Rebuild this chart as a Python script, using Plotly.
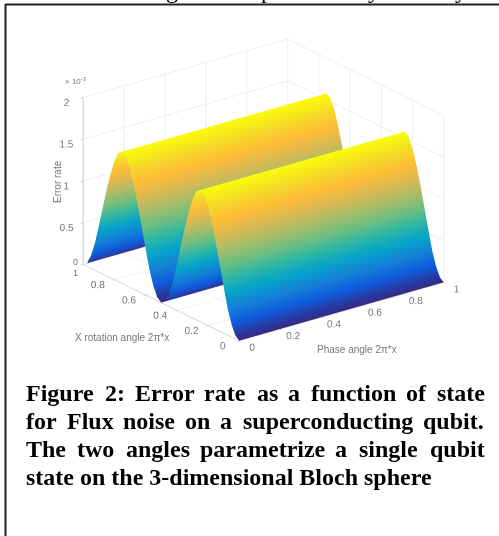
import plotly.graph_objects as go

phase_x = [0, 0.25, 0.5, 0.75, 1]
rotation_y = [0, .025, .05, .075, .1, .125, .15, .175, .2, .225, .25, .275, .3, .325, .35, .375, .4, .425, .45, .475,
              .5, .525, .55, .575, .6, .625, .65, .675, .7, .725, .75, .775, .8, .825, .85, .875, .9, .925, .95, .975, 1]
profile = [0, .04, .15, .32, .55, .79, 1.03, 1.24, 1.42, 1.54, 1.58, 1.54, 1.42, 1.24, 1.03, .79, .55, .32, .15, .04,
           0, .04, .15, .32, .55, .79, 1.03, 1.24, 1.42, 1.54, 1.58, 1.54, 1.42, 1.24, 1.03, .79, .55, .32, .15, .04, 0]
z_rows = [[v] * len(phase_x) for v in profile]
parula = [[0, "#352a87"], [.1, "#0f5cdd"], [.2, "#1481d6"], [.3, "#06a4ca"], [.4, "#2eb7a4"], [.5, "#70be80"],
          [.6, "#a9bd69"], [.7, "#dcb952"], [.8, "#febd37"], [.9, "#f5d928"], [1, "#f9fb0e"]]

ticks = [0, .2, .4, .6, .8, 1]
xlabels = ["0", "0.2", "0.4", "0.6", "0.8", "1"]
ylabels = ["0", "0.2", "0.4", "0.6", "0.8", ""]
zticks = [0, .5, 1, 1.5, 2]
zlabels = ["", "0.5", "1", "1.5", "2"]
caption_words = [
    (393, [("Figure", 24), ("2:", 103), ("Error", 133), ("rate", 202), ("as", 255), ("a", 286), ("function", 309), ("of", 404), ("state", 435)]),
    (421, [("for", 24), ("Flux", 65), ("noise", 121), ("on", 183), ("a", 218), ("superconducting", 241), ("qubit.", 421)]),
    (449, [("The", 24), ("two", 75), ("angles", 124), ("parametrize", 198), ("a", 333), ("single", 357), ("qubit", 428)]),
    (477, [("state on the 3-dimensional Bloch sphere", 24)]),
]
clipped_top = [("g", 172), ("p", 267), ("y", 374), ("y", 461)]

fig = go.Figure(go.Surface(x=phase_x, y=rotation_y, z=z_rows, colorscale=parula, showscale=False, cmin=0, cmax=1.58,
                           lighting=dict(ambient=1, diffuse=0, specular=0, roughness=1, fresnel=0),
                           hoverinfo="skip"))
axis = dict(showbackground=False, showspikes=False, gridcolor="#eeeeee", linecolor="#aaaaaa", showline=True,
            zeroline=False, ticks="outside", tickcolor="#aaaaaa", ticklen=3, tickangle=0,
            tickfont=dict(size=11, color="#777777", family="Liberation Sans"),
            title=dict(text=""), autorange=False)
fig.update_layout(
    width=499, height=536, margin=dict(l=0, r=0, t=0, b=0), paper_bgcolor="white", showlegend=False,
    scene=dict(
        domain=dict(x=[30/499, 497/499], y=[1-370/536, 1-10/536]),
        xaxis=dict(axis, tickvals=ticks, ticktext=xlabels, range=[0, 1]),
        yaxis=dict(axis, tickvals=ticks, ticktext=ylabels, range=[0, 1]),
        zaxis=dict(axis, tickvals=zticks, ticktext=zlabels, range=[0, 2]),
        aspectmode="manual", aspectratio=dict(x=1.43, y=1.43, z=1.0),
        camera=dict(projection=dict(type="orthographic"), up=dict(x=0, y=0, z=1), center=dict(x=0, y=0, z=0),
                    eye=dict(x=-0.607*0.927*2, y=-0.795*0.927*2, z=0.374*2)),
    ),
    shapes=[
        dict(type="line", xref="paper", yref="paper", x0=5.5/499, x1=1, y0=1-4.5/536, y1=1-4.5/536, line=dict(color="#222222", width=2)),
        dict(type="line", xref="paper", yref="paper", x0=5.5/499, x1=5.5/499, y0=0, y1=1-4/536, line=dict(color="#222222", width=2)),
    ],
)
def note(text, px, py, size=10, color="#777777", family="Liberation Sans", xanchor="center", yanchor="middle", **kw):
    fig.add_annotation(text=text, x=px/499, y=1-py/536, xref="paper", yref="paper", showarrow=False,
                       xanchor=xanchor, yanchor=yanchor,
                       font=dict(size=size, color=color, family=family), **kw)
note("Error rate", 57, 182, textangle=-90)
note("X rotation angle 2π*x", 122, 337)
note("Phase angle 2π*x", 357, 349)
note("× 10<sup>-3</sup>", 75, 81, size=8)
note("0", 75, 262, size=9)
note("1", 75, 273, size=9)
for py, words in caption_words:
    for word, px in words:
        note("<b>" + word + "</b>", px, py, size=24, color="black", family="Liberation Serif", xanchor="left")
for letter, px in clipped_top:
    note(letter, px, 4.5, size=24, color="black", family="Liberation Serif", yanchor="bottom")
fig.write_html("out.html", config=dict(displayModeBar=False),
               post_script="document.body.style.margin='0';document.documentElement.style.overflow='hidden';window.dispatchEvent(new Event('resize'));")
